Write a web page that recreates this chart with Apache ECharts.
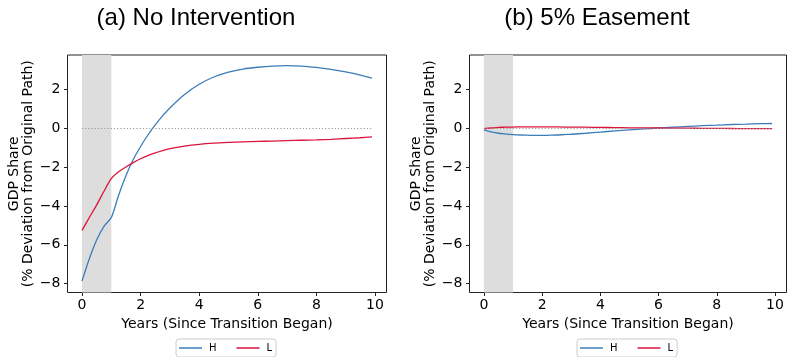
<!DOCTYPE html>
<html>
<head>
<meta charset="utf-8">
<script src="https://cdn.jsdelivr.net/npm/echarts@6/dist/echarts.min.js"></script>
<style>
  html, body { margin: 0; padding: 0; background: #fff; }
  #chart { width: 787px; height: 357px; }
</style>
</head>
<body>
<div id="chart"></div>
<script>
// years since transition began
var years = [0, 0.25, 0.5, 0.75, 1, 1.25, 1.5, 1.75, 2, 2.25, 2.5, 2.75, 3,
  3.5, 4, 4.5, 5, 5.5, 6, 6.5, 7, 7.5, 8, 8.5, 9, 9.5, 9.9];

// (a) no intervention
var noIntH = [-7.86, -6.72, -5.75, -5.05, -4.6, -3.45, -2.45, -1.62, -0.95, -0.36, 0.16, 0.62, 1.03,
  1.72, 2.25, 2.62, 2.87, 3.03, 3.12, 3.18, 3.2, 3.18, 3.11, 3.01, 2.88, 2.72, 2.56];
var noIntL = [-5.26, -4.6, -3.95, -3.25, -2.6, -2.25, -2.0, -1.78, -1.58, -1.42, -1.28, -1.16, -1.06,
  -0.93, -0.84, -0.78, -0.74, -0.71, -0.69, -0.67, -0.65, -0.63, -0.61, -0.58, -0.54, -0.5, -0.46];

// (b) 5% easement
var easeH = [-0.1, -0.2, -0.27, -0.31, -0.34, -0.36, -0.37, -0.38, -0.38, -0.37, -0.36, -0.34, -0.32,
  -0.27, -0.21, -0.15, -0.1, -0.05, 0.0, 0.04, 0.08, 0.12, 0.15, 0.18, 0.2, 0.22, 0.23];
var easeL = [-0.03, 0, 0.03, 0.04, 0.05, 0.055, 0.06, 0.06, 0.06, 0.06, 0.055, 0.05, 0.05,
  0.04, 0.03, 0.02, 0.01, 0.005, 0, -0.005, -0.01, -0.015, -0.02, -0.025, -0.03, -0.03, -0.03];

var xTicks = [0, 2, 4, 6, 8, 10];
var yTicks = [-8, -6, -4, -2, 0, 2];
var titles = ['(a) No Intervention', '(b) 5% Easement'];

var BLUE = '#3b7cba';
var RED = '#dc143c';
var FONT = 'DejaVu Sans';

function pairs(ys) {
  return years.map(function (x, i) { return [x, ys[i]]; });
}
function minus(v) { return String(v).replace('-', '\u2212'); }

function xAxisFor(idx) {
  return {
    type: 'value', gridIndex: idx, min: -0.495, max: 10.395,
    name: 'Years (Since Transition Began)', nameLocation: 'middle', nameGap: 23,
    nameTextStyle: { fontFamily: FONT, fontSize: 14, color: '#000' },
    axisLine: { show: false, onZero: false },
    axisTick: { show: true, length: 3.5, customValues: xTicks, lineStyle: { color: '#222', width: 1 } },
    axisLabel: { customValues: xTicks, margin: 6, fontFamily: FONT, fontSize: 14, color: '#000', formatter: minus },
    splitLine: { show: false }
  };
}
function yAxisFor(idx) {
  return {
    type: 'value', gridIndex: idx, min: -8.45, max: 3.75,
    name: 'GDP Share\n(% Deviation from Original Path)', nameLocation: 'middle', nameGap: 32, nameRotate: 90,
    nameTextStyle: { fontFamily: FONT, fontSize: 14, color: '#000', lineHeight: 14 },
    axisLine: { show: false, onZero: false },
    axisTick: { show: true, length: 3.5, customValues: yTicks, lineStyle: { color: '#222', width: 1 } },
    axisLabel: { customValues: yTicks, margin: 7, fontFamily: FONT, fontSize: 14, color: '#000', formatter: minus },
    splitLine: { show: false }
  };
}

function seriesFor(idx, hData, lData) {
  return [
    {
      name: 'H', type: 'line', xAxisIndex: idx, yAxisIndex: idx, data: pairs(hData),
      showSymbol: false, smooth: 0.3,
      lineStyle: { color: BLUE, width: 1.3 }, itemStyle: { color: BLUE },
      markArea: {
        silent: true, itemStyle: { color: '#dddddd', opacity: 1 },
        data: [[{ xAxis: 0 }, { xAxis: 1 }]]
      }
    },
    {
      name: 'L', type: 'line', xAxisIndex: idx, yAxisIndex: idx, data: pairs(lData),
      showSymbol: false, smooth: 0.3,
      lineStyle: { color: RED, width: 1.3 }, itemStyle: { color: RED }
    },
    {
      name: 'zero', type: 'line', xAxisIndex: idx, yAxisIndex: idx, data: [], z: 5,
      markLine: {
        silent: true, symbol: 'none', label: { show: false },
        lineStyle: { color: '#999', width: 1.2, type: [1.2, 2] },
        data: [[{ coord: [0, 0] }, { coord: [9.9, 0] }]]
      }
    }
  ];
}

function legendAt(left) {
  return {
    data: ['H', 'L'], left: left, top: 339, icon: 'rect', itemWidth: 23, itemHeight: 1.5,
    itemGap: 20, padding: [4, 4, 4, 3], borderColor: '#ccc', borderWidth: 1, borderRadius: 3,
    backgroundColor: '#fff',
    textStyle: { fontFamily: FONT, fontSize: 10, color: '#000', padding: [0, 0, 0, 2] }
  };
}

var chart = echarts.init(document.getElementById('chart'), null, { renderer: 'canvas' });
chart.setOption({
  animation: false,
  backgroundColor: '#fff',
  graphic: [
    { type: 'text', x: 196, y: 6, style: { text: titles[0], font: '24px "Liberation Sans"', fill: '#000', textAlign: 'center' } },
    { type: 'text', x: 597, y: 6, style: { text: titles[1], font: '24px "Liberation Sans"', fill: '#000', textAlign: 'center' } }
  ],
  legend: [legendAt(176), legendAt(577)],
  grid: [
    { left: 67.5, top: 55, width: 319, height: 237.5, show: true, borderColor: '#222', borderWidth: 1, backgroundColor: 'transparent' },
    { left: 469.5, top: 55, width: 317, height: 237.5, show: true, borderColor: '#222', borderWidth: 1, backgroundColor: 'transparent' }
  ],
  xAxis: [xAxisFor(0), xAxisFor(1)],
  yAxis: [yAxisFor(0), yAxisFor(1)],
  series: seriesFor(0, noIntH, noIntL).concat(seriesFor(1, easeH, easeL))
});
</script>
</body>
</html>
